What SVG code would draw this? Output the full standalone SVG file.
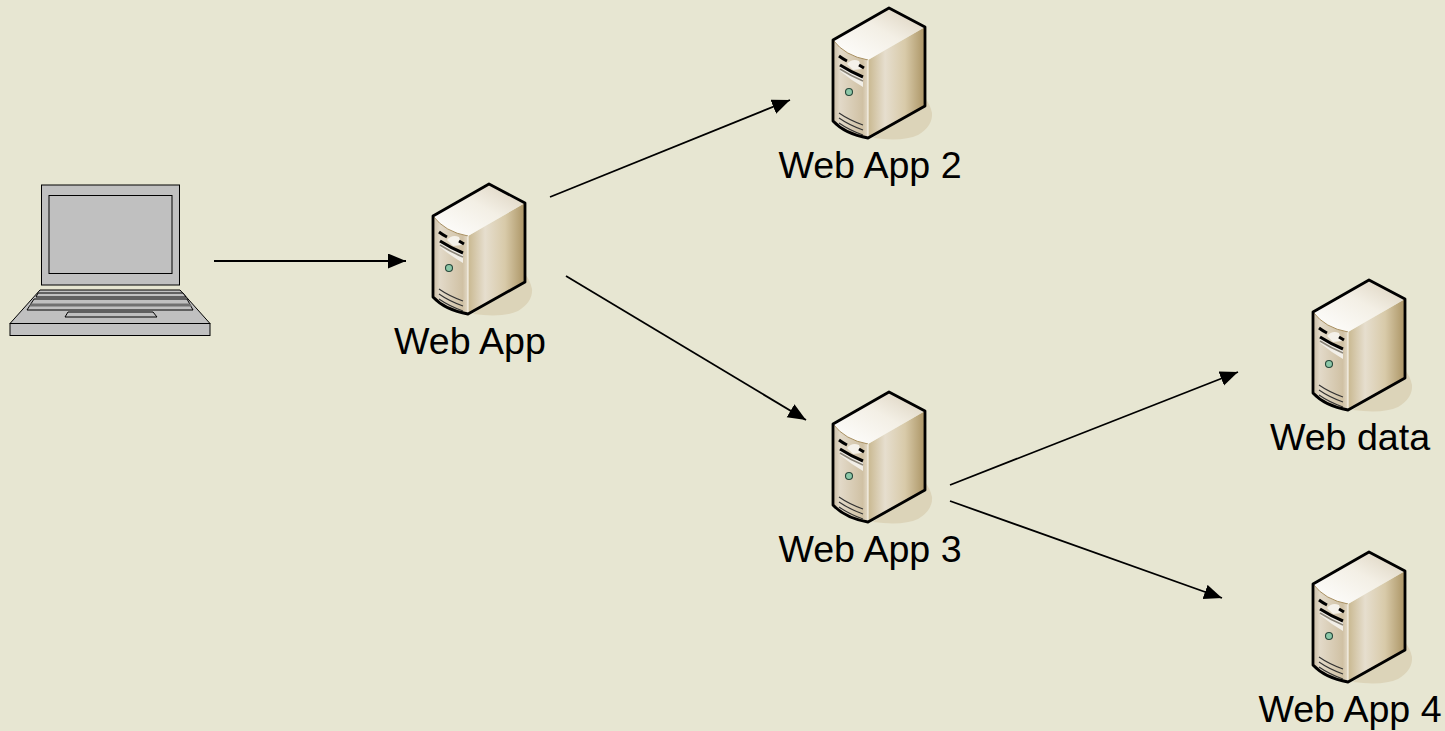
<svg xmlns="http://www.w3.org/2000/svg" width="1445" height="731" viewBox="0 0 1445 731">
<style>
.lbl{font-family:"Liberation Sans",Arial,sans-serif;font-size:37.600px;fill:#000;text-anchor:middle}
.conn{stroke:#000;stroke-width:1.8;fill:none;marker-end:url(#arrow)}
.lap{fill:#c0c0c0;stroke:#000;stroke-width:1;stroke-linejoin:miter}
</style>
<defs>
<marker id="arrow" markerUnits="userSpaceOnUse" markerWidth="20" markerHeight="16" refX="18" refY="7.500" orient="auto"><path d="M0 0L18 7.500L0 15Z" fill="#000"/></marker>
<linearGradient id="front" x1="0" y1="0" x2="1" y2="0"><stop offset="0" stop-color="#c9bba2"/><stop offset=".2" stop-color="#e2d9c8"/><stop offset=".85" stop-color="#d0c1a4"/><stop offset="1" stop-color="#e3dac8"/></linearGradient>
<linearGradient id="side" x1="0" y1="0" x2="1" y2="0"><stop offset="0" stop-color="#c9b890"/><stop offset=".3" stop-color="#e6dece"/><stop offset=".65" stop-color="#d8caa9"/><stop offset="1" stop-color="#ab9464"/></linearGradient>
<linearGradient id="top" x1="0" y1="1" x2="1" y2="0"><stop offset="0" stop-color="#ffffff"/><stop offset=".55" stop-color="#f3efe5"/><stop offset="1" stop-color="#d9cfba"/></linearGradient>
<g id="server">
<path d="M40 130Q70 134 85 127Q100 118 99 105Q97 96 92 90Z" fill="#dcd4b9"/>
<path d="M0 32L35 52V130Q12 126 0 113Z" fill="url(#front)"/>
<path d="M35 52L92 19V98L35 130Z" fill="url(#side)"/>
<path d="M0 32L56 0L92 19L35 52Q12 48 0 32Z" fill="url(#top)"/>
<path d="M0 32Q12 48 35 52" fill="none" stroke="#a88f60" stroke-width="1"/>
<path d="M35 52V130" stroke="#f6f2e8" stroke-width="1.200" fill="none"/>
<path d="M7 56Q18 63 30 68V79Q18 72 7 63Z" fill="#f2efe8"/>
<path d="M7 57Q18 64 30 69" fill="none" stroke="#000" stroke-width="3"/>
<path d="M7 61Q18 68 30 73" fill="none" stroke="#8a8478" stroke-width="1.500"/>
<path d="M14 56Q19 50 26 53L29 61L20 62Z" fill="#f4f1ea"/>
<path d="M6 48Q10 51 14 53M26 57L31 60" fill="none" stroke="#000" stroke-width="3"/>
<circle cx="16" cy="84" r="3.500" fill="#8cc7a8" stroke="#26473a" stroke-width="1.100"/>
<path d="M6 105Q16 112 30 117M6 110Q16 117 30 122M6 115Q16 122 30 127" fill="none" stroke="#333" stroke-width="1.100"/>
<path d="M0 32L56 0L92 19V98L35 130Q12 126 0 113Z" fill="none" stroke="#000" stroke-width="2.800" stroke-linejoin="round"/>
</g>
</defs>
<rect width="1445" height="731" fill="#e7e6d2"/>
<g id="connectors">
<line class="conn" x1="214" y1="261" x2="406" y2="261"/>
<line class="conn" x1="550" y1="197" x2="790" y2="100"/>
<line class="conn" x1="566" y1="276" x2="806" y2="420"/>
<line class="conn" x1="950" y1="485" x2="1238" y2="372"/>
<line class="conn" x1="950" y1="501" x2="1222" y2="598"/>
</g>
<g id="laptop">
<rect class="lap" x="41.500" y="185" width="138" height="100" stroke="#444"/>
<rect class="lap" x="49" y="195.500" width="123" height="78" stroke-width="1.500"/>
<path class="lap" d="M40 290H180L210 323.500H10Z"/>
<rect class="lap" x="10" y="323.500" width="200" height="12"/>
<path class="lap" d="M38 293H183L186 297H36Z"/>
<path class="lap" d="M34 299H187L193 310H27Z"/>
<path d="M31 303.500H190L192 306.500H29Z" fill="#707070"/>
<path class="lap" d="M68 312H153L157 317H65Z"/>
</g>
<g id="web-app"><use href="#server" x="433" y="184"/><text class="lbl" x="470" y="354">Web App</text></g>
<g id="web-app-2"><use href="#server" x="833" y="8"/><text class="lbl" x="870" y="178">Web App 2</text></g>
<g id="web-app-3"><use href="#server" x="833" y="392"/><text class="lbl" x="870" y="562">Web App 3</text></g>
<g id="web-data"><use href="#server" x="1313" y="280"/><text class="lbl" x="1350" y="450">Web data</text></g>
<g id="web-app-4"><use href="#server" x="1313" y="552"/><text class="lbl" x="1350" y="722">Web App 4</text></g>
</svg>
